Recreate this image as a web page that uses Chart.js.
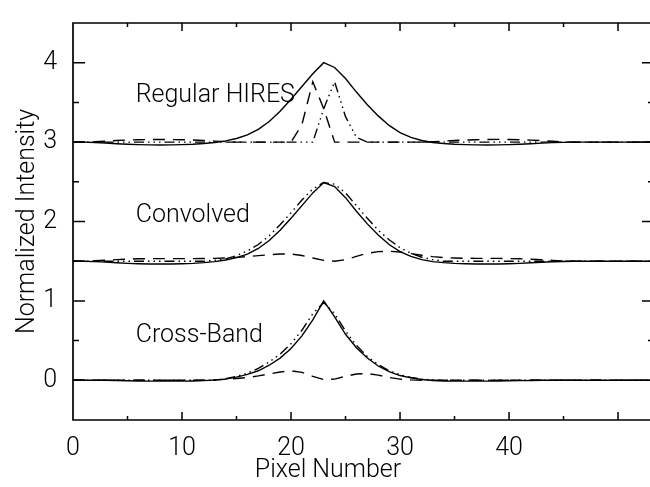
<!DOCTYPE html>
<html><head><meta charset="utf-8">
<script src="https://cdn.jsdelivr.net/npm/chart.js@4/dist/chart.umd.min.js"></script>
<style>html,body{margin:0;padding:0;background:#fff;overflow:hidden}
#wrap{width:670px;height:487px;position:relative}</style>
</head><body><div id="wrap"><canvas id="c"></canvas></div>
<script>
// ---- data ----
const pixels = [0,1,2,3,4,5,6,7,8,9,10,11,12,13,14,15,16,17,18,19,20,21,22,23,24,25,26,27,28,29,30,31,32,33,34,35,36,37,38,39,40,41,42,43,44,45,46,47,48,49,50,51,52,53];
const groupNames = ['Regular HIRES', 'Convolved', 'Cross-Band'];
const groupOffsets = [3, 1.5, 0];

// Regular HIRES
const hiresSolid = [0,0,-0.005,-0.012,-0.02,-0.027,-0.032,-0.035,-0.036,-0.035,-0.032,-0.027,-0.018,-0.005,0.015,0.045,0.09,0.16,0.26,0.39,0.54,0.70,0.86,1.00,0.94,0.80,0.63,0.47,0.33,0.21,0.12,0.06,0.02,-0.005,-0.018,-0.027,-0.032,-0.035,-0.036,-0.035,-0.032,-0.027,-0.02,-0.013,-0.007,-0.003,0,0,0,0,0,0,0,0];
const hiresDashed = [0,0,0.005,0.012,0.02,0.026,0.03,0.032,0.033,0.032,0.03,0.026,0.02,0.012,0.005,0,0,0,0,0,0,0.22,0.76,0.42,0.0,0,0,0,0,0,0,0,0,0.005,0.012,0.02,0.026,0.03,0.033,0.034,0.033,0.03,0.025,0.018,0.01,0.004,0,0,0,0,0,0,0,0];
const hiresDashDot = [0,0,0,0,0,0,0,0,0,0,0,0,0,0,0,0,0,0,0,0,0,0,0.0,0.42,0.76,0.32,0.06,0,0,0,0,0,0,0,0,0,0,0,0,0,0,0,0,0,0,0,0,0,0,0,0,0,0,0];

// Convolved
const convSolid = [0,0,-0.005,-0.012,-0.02,-0.027,-0.032,-0.035,-0.036,-0.035,-0.032,-0.027,-0.018,-0.005,0.015,0.045,0.09,0.16,0.26,0.39,0.54,0.70,0.86,0.99,0.94,0.80,0.63,0.47,0.33,0.21,0.12,0.06,0.02,-0.005,-0.018,-0.027,-0.032,-0.035,-0.036,-0.035,-0.032,-0.027,-0.02,-0.013,-0.007,-0.003,0,0,0,0,0,0,0,0];
const convDashed = [0,0,0.005,0.012,0.02,0.026,0.03,0.032,0.033,0.033,0.033,0.033,0.034,0.036,0.04,0.048,0.058,0.07,0.082,0.09,0.09,0.072,0.04,0.01,0.0,0.02,0.06,0.10,0.12,0.125,0.115,0.095,0.075,0.058,0.046,0.04,0.037,0.036,0.036,0.035,0.033,0.03,0.025,0.018,0.01,0.004,0,0,0,0,0,0,0,0];
const convDashDot = [0,0,0,0,0,0,0,0,0,0,0,0,0,0.01,0.03,0.07,0.13,0.21,0.32,0.46,0.61,0.77,0.91,0.99,0.97,0.86,0.70,0.54,0.39,0.27,0.17,0.10,0.05,0.02,0,0,0,0,0,0,0,0,0,0,0,0,0,0,0,0,0,0,0,0];

// Cross-Band
const crossSolid = [0,0,0,0,-0.003,-0.006,-0.008,-0.01,-0.011,-0.011,-0.01,-0.008,-0.004,0.003,0.015,0.04,0.075,0.12,0.19,0.28,0.40,0.56,0.76,1.00,0.80,0.58,0.41,0.28,0.18,0.11,0.06,0.03,0.01,-0.003,-0.008,-0.01,-0.011,-0.011,-0.01,-0.008,-0.006,-0.004,-0.002,0,0,0,0,0,0,0,0,0,0,0];
const crossDashed = [0,0,0,0,0,0,0,0,0,0,0,0,0,0.005,0.012,0.022,0.036,0.055,0.08,0.105,0.12,0.10,0.05,0.01,0.015,0.05,0.08,0.085,0.065,0.035,0.015,0.005,0,0,0,0,0,0,0,0,0,0,0,0,0,0,0,0,0,0,0,0,0,0];
const crossDashDot = [0,0,0,0,0,0,0,0,0,0,0,0,0,0,0.02,0.05,0.09,0.15,0.23,0.33,0.46,0.63,0.84,0.98,0.84,0.62,0.44,0.30,0.20,0.12,0.07,0.035,0.015,0.005,0,0,0,0,0,0,0,0,0,0,0,0,0,0,0,0,0,0,0,0];

const xTickValues = [0, 10, 20, 30, 40];
const yTickValues = [0, 1, 2, 3, 4];
const xAxisTitle = 'Pixel Number';
const yAxisTitle = 'Normalized Intensity';

// ---- styling / layout ----
const FONT = "Roboto, 'Liberation Sans', Arial, sans-serif";
const FS = 25;
const FW = 300;
const DASH = [12, 8];
const DASHDOT3 = [10, 4, 1.5, 4, 1.5, 4, 1.5, 4];
const noteAnchor = {x: 5.75, y: [3.58, 2.07, 0.56]};

function series(vals, off) { return pixels.map((p, i) => ({x: p, y: vals[i] + off})); }
const groups = [
  [hiresSolid, hiresDashed, hiresDashDot],
  [convSolid, convDashed, convDashDot],
  [crossSolid, crossDashed, crossDashDot]
];
const datasets = [];
groups.forEach((g, gi) => {
  const off = groupOffsets[gi];
  datasets.push({data: series(g[2], off), borderDash: DASHDOT3, order: 3});
  datasets.push({data: series(g[1], off), borderDash: DASH, order: 2});
  datasets.push({data: series(g[0], off), borderDash: [], order: 1});
});
datasets.forEach(d => Object.assign(d, {borderColor: '#000', borderWidth: 1.4, pointRadius: 0, tension: 0, fill: false}));

const framePlugin = {
  id: 'frame',
  afterDatasetsDraw(chart) {
    const {ctx, chartArea: a, scales: {x, y}} = chart;
    ctx.save();
    ctx.strokeStyle = '#000';
    ctx.lineWidth = 1.7;
    ctx.beginPath();
    ctx.rect(a.left, a.top, a.right - a.left, a.bottom - a.top);
    ctx.stroke();
    ctx.lineWidth = 1.5;
    ctx.beginPath();
    for (let v = 5; v < x.max; v += 5) {
      const px = x.getPixelForValue(v);
      const len = v % 10 === 0 ? 8 : 4;
      ctx.moveTo(px, a.bottom); ctx.lineTo(px, a.bottom - len);
      ctx.moveTo(px, a.top); ctx.lineTo(px, a.top + len);
    }
    for (let v = 0; v <= 4; v += 0.5) {
      const py = y.getPixelForValue(v);
      const len = Number.isInteger(v) ? 12 : 6;
      ctx.moveTo(a.left, py); ctx.lineTo(a.left + len, py);
      ctx.moveTo(a.right, py); ctx.lineTo(a.right - len, py);
    }
    ctx.stroke();
    // annotations
    ctx.fillStyle = '#000';
    ctx.font = FW + ' ' + FS + 'px ' + FONT;
    ctx.textBaseline = 'middle';
    ctx.textAlign = 'left';
    groupNames.forEach((t, i) => {
      ctx.fillText(t, x.getPixelForValue(noteAnchor.x), y.getPixelForValue(noteAnchor.y[i]));
    });
    // x title
    ctx.textAlign = 'center';
    ctx.fillText(xAxisTitle, 328, 471);
    ctx.restore();
  }
};

new Chart(document.getElementById('c'), {
  type: 'line',
  data: {datasets},
  options: {
    responsive: true, maintainAspectRatio: false, animation: false,
    layout: {padding: {top: 12, right: 16, left: 0, bottom: 0}},
    plugins: {legend: {display: false}, tooltip: {enabled: false}},
    scales: {
      x: {
        type: 'linear', min: 0, max: 53.3,
        afterBuildTicks: s => { s.ticks = xTickValues.map(v => ({value: v})); },
        ticks: {padding: 6, color: '#000', font: {family: FONT, size: FS, weight: FW}, maxRotation: 0, autoSkip: false, callback: v => String(v)},
        grid: {display: false}, border: {display: false},
        afterFit: s => { s.height = 67; }
      },
      y: {
        type: 'linear', min: -0.5, max: 4.5,
        afterBuildTicks: s => { s.ticks = yTickValues.map(v => ({value: v})); },
        ticks: {padding: 8, color: '#000', font: {family: FONT, size: FS, weight: FW}, callback: v => String(v)},
        grid: {display: false}, border: {display: false},
        title: {display: true, text: yAxisTitle, color: '#000', font: {family: FONT, size: FS, weight: FW}, padding: {top: 13, bottom: 0}},
        afterFit: s => { s.width = 73; }
      }
    }
  },
  plugins: [framePlugin]
});
</script></body></html>
